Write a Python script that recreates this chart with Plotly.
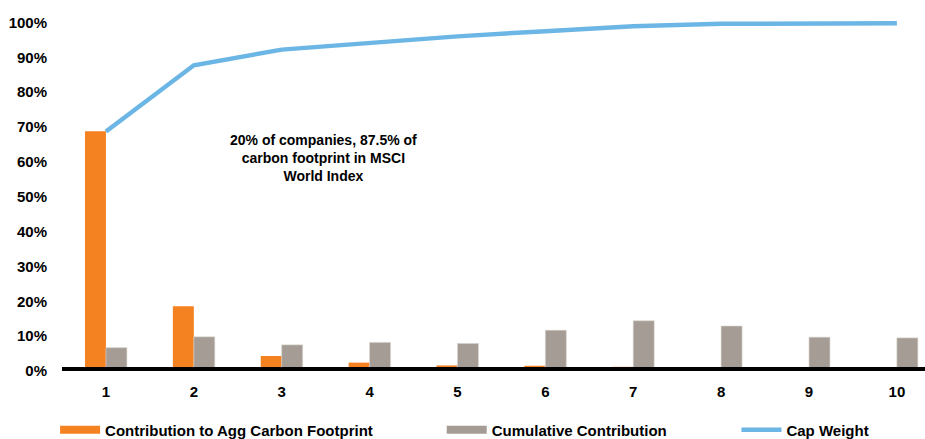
import plotly.graph_objects as go

categories = [1, 2, 3, 4, 5, 6, 7, 8, 9, 10]
contribution = [68.8, 18.6, 4.3, 2.4, 1.6, 1.5, 1.2, 0.8, 0.6, 0.4]
cumulative_contribution = [6.7, 9.8, 7.5, 8.2, 7.9, 11.7, 14.4, 12.9, 9.7, 9.5]
cap_weight = [68.7, 87.7, 92.2, 94.2, 96.0, 97.5, 98.9, 99.6, 99.7, 99.8]
y_ticks = [0, 10, 20, 30, 40, 50, 60, 70, 80, 90, 100]
y_tick_labels = [f"{v}%" for v in y_ticks]

ORANGE = "#f58220"
GRAY = "#a59d95"
BLUE = "#6cb6e6"
FONT = dict(family="Liberation Sans, Arial, sans-serif", size=15, color="#000000", weight="bold")

fig = go.Figure()
fig.add_trace(go.Bar(x=categories, y=contribution, marker=dict(color=ORANGE, line=dict(width=0)),
                     showlegend=False, name="Contribution to Agg Carbon Footprint"))
fig.add_trace(go.Bar(x=categories, y=cumulative_contribution, marker=dict(color=GRAY, line=dict(color="#d8d3ce", width=0.6)),
                     showlegend=False, name="Cumulative Contribution"))
fig.add_trace(go.Scatter(x=categories, y=cap_weight, mode="lines", line=dict(color=BLUE, width=4.5),
                         showlegend=False, name="Cap Weight", cliponaxis=False))

# legend entries
fig.add_trace(go.Scatter(x=[None], y=[None], mode="lines", line=dict(color=ORANGE, width=8),
                         name="Contribution to Agg Carbon Footprint", legend="legend"))
fig.add_trace(go.Scatter(x=[None], y=[None], mode="lines", line=dict(color=GRAY, width=8),
                         name="Cumulative Contribution", legend="legend2"))
fig.add_trace(go.Scatter(x=[None], y=[None], mode="lines", line=dict(color=BLUE, width=4.5),
                         name="Cap Weight", legend="legend3"))

fig.add_shape(type="line", xref="paper", x0=0, x1=1, yref="y", y0=0, y1=0,
              line=dict(color="#000000", width=8), layer="above")

fig.add_annotation(x=3.47, y=61, xref="x", yref="y",
                   text="20% of companies, 87.5% of<br>carbon footprint in MSCI<br>World Index",
                   showarrow=False, font=dict(FONT, size=14), align="center")

leg_common = dict(orientation="h", yanchor="middle", xanchor="left", y=-0.161, yref="paper",
                  font=FONT, itemwidth=40, bgcolor="rgba(0,0,0,0)", borderwidth=0)
fig.update_layout(
    width=925, height=439,
    margin=dict(l=62, r=0, t=4.5, b=68, autoexpand=False),
    paper_bgcolor="white", plot_bgcolor="white",
    barmode="group", bargap=0.523, bargroupgap=0,
    font=FONT,
    legend=dict(leg_common, x=-0.008),
    legend2=dict(leg_common, x=0.440),
    legend3=dict(leg_common, x=0.7815),
    xaxis=dict(range=[0.5, 10.32], tickvals=categories, ticktext=[str(c) for c in categories],
               showgrid=False, zeroline=False, showline=False, ticks="", ticklabelstandoff=10,
               tickfont=FONT, fixedrange=True, automargin=False),
    yaxis=dict(range=[0, 105], tickvals=y_ticks, ticktext=y_tick_labels,
               showgrid=False, zeroline=False, showline=False, ticks="", ticklabelstandoff=14,
               tickfont=FONT, fixedrange=True, automargin=False),
)

fig.write_html("out.html", config={"displayModeBar": False},
               post_script="document.body.style.margin='0';document.body.style.padding='0';")
